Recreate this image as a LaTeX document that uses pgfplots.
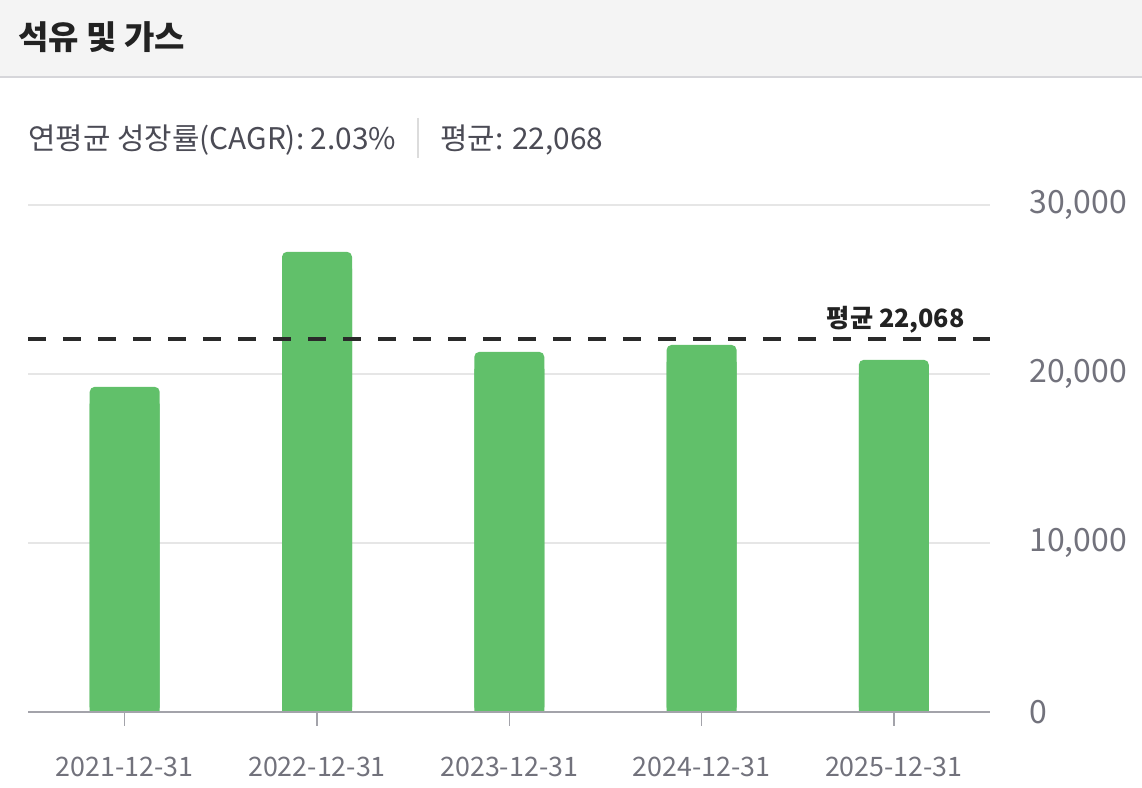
\documentclass[border=0pt]{standalone}
\usepackage{pgfplots}
\usepackage{pgfplotstable}
\pgfplotsset{compat=1.18}
\usepackage{fontspec}
\setmainfont{Noto Sans CJK KR}
\definecolor{bargreen}{HTML}{61C06A}
\definecolor{axgray}{HTML}{A3A3AA}
\definecolor{gridgray}{HTML}{E6E6E6}
\definecolor{ticktext}{HTML}{72727C}
\definecolor{subtext}{HTML}{4B4B55}
\definecolor{titletext}{HTML}{222222}
\definecolor{headbg}{HTML}{F4F4F4}
\definecolor{headline}{HTML}{D6D6DA}
\definecolor{sepgray}{HTML}{DCDCDC}
\definecolor{avgline}{HTML}{2A2A2A}
\pgfplotstableread{
x y
0 19240
1 27230
2 21310
3 21720
4 20840
}\datatable
\begin{document}
\begin{tikzpicture}
\path[use as bounding box, fill=white] (0,0) rectangle (571pt,394pt);
\fill[headbg] (0,355.5pt) rectangle (571pt,394pt);
\draw[headline, line width=1pt] (0,355.5pt) -- (571pt,355.5pt);
\node[anchor=west, inner sep=0pt, text=titletext, font=\fontsize{16.5}{19}\selectfont\bfseries] at (9pt,375.5pt) {석유 및 가스};
\node[anchor=west, inner sep=0pt, text=subtext, font=\fontsize{14.9}{17}\selectfont] at (14pt,324pt) {연평균 성장률(CAGR): 2.03\%};
\draw[sepgray, line width=0.6pt] (209pt,335pt) -- (209pt,315pt);
\node[anchor=west, inner sep=0pt, text=subtext, font=\fontsize{14.9}{17}\selectfont] at (220pt,324pt) {평균: 22,068};
\begin{axis}[
  at={(14pt,38pt)}, anchor=south west,
  scale only axis, width=481pt, height=253.5pt,
  xmin=-0.503, xmax=4.5, ymin=0, ymax=30000,
  axis line style={draw=none},
  scaled y ticks=false,
  xtick=data,
  xticklabels={2021-12-31,2022-12-31,2023-12-31,2024-12-31,2025-12-31},
  xtick pos=lower, tick align=outside,
  major tick length=7pt,
  x tick style={axgray, line width=0.7pt},
  xticklabel style={anchor=north, inner sep=0pt, yshift=-15.5pt, text=ticktext, font=\fontsize{13.4}{16}\selectfont},
  ytick={0,10000,20000,30000},
  yticklabels={0,{10,000},{20,000},{30,000}},
  yticklabel pos=right,
  y tick style={draw=none},
  yticklabel style={anchor=west, inner sep=0pt, xshift=12.5pt, text=ticktext, font=\fontsize{16}{19}\selectfont},
  ymajorgrids, grid style={gridgray, line width=1pt},
  clip=false,
]
\addplot[ybar, bar width=35pt, bar shift=0pt, fill=bargreen, draw=none, rounded corners=2.5pt] table[x=x,y=y]{\datatable};
\addplot[ybar, bar width=35pt, bar shift=0pt, fill=bargreen, draw=none] table[x=x,y expr=\thisrow{y}-1000]{\datatable};
\draw[axgray, line width=1pt] (axis cs:-0.503,0) -- (axis cs:4.5,0);
\addplot[avgline, line width=2pt, dash pattern=on 9pt off 8.5pt] coordinates {(-0.503,22068) (4.5,22068)};
\node[anchor=base east, inner sep=0pt, text=titletext, font=\fontsize{12.6}{15}\selectfont\bfseries] at ([yshift=6pt]axis cs:4.37,22068) {평균 22,068};
\end{axis}
\end{tikzpicture}
\end{document}
